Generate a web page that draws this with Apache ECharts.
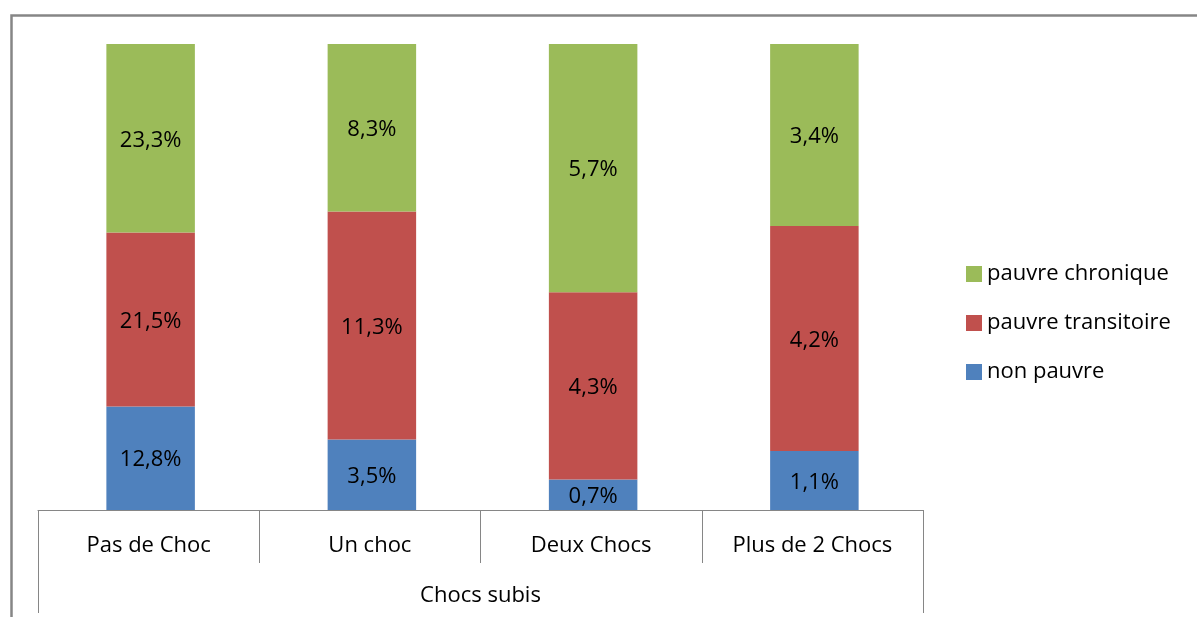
<!DOCTYPE html>
<html>
<head>
<meta charset="utf-8">
<script src="https://cdn.jsdelivr.net/npm/echarts@6/dist/echarts.min.js"></script>
<style>html,body{margin:0;padding:0;background:#fff}#c{width:1197px;height:617px}</style>
</head>
<body>
<div id="c"></div>
<script>
const categories = ['Pas de Choc', 'Un choc', 'Deux Chocs', 'Plus de 2 Chocs'];
const groupLabel = ['Chocs subis'];
const nonPauvre = [12.8, 3.5, 0.7, 1.1];
const pauvreTransitoire = [21.5, 11.3, 4.3, 4.2];
const pauvreChronique = [23.3, 8.3, 5.7, 3.4];
const seriesNames = ['non pauvre', 'pauvre transitoire', 'pauvre chronique'];
const colors = ['#4F81BD', '#C0504D', '#9BBB59'];

const raw = [nonPauvre, pauvreTransitoire, pauvreChronique];
const totals = categories.map((c, i) => raw.reduce((s, a) => s + a[i], 0));
const font = '"Open Sans", "Noto Sans", sans-serif';
const fs = 22;

const chart = echarts.init(document.getElementById('c'));
chart.setOption({
  animation: false,
  backgroundColor: '#fff',
  graphic: [{
    type: 'rect', left: 9, top: 13, z: -1,
    shape: { width: 1300, height: 700 },
    style: { fill: 'none', stroke: '#868686', lineWidth: 2.5 }
  }],
  legend: {
    orient: 'vertical', left: 966, top: 262, padding: 0,
    data: ['pauvre chronique', 'pauvre transitoire', 'non pauvre'],
    icon: 'rect', itemWidth: 16, itemHeight: 16, itemGap: 25,
    textStyle: { fontFamily: font, fontSize: fs, lineHeight: 24, color: '#000' }
  },
  grid: [
    { left: 38, right: 274, top: 44, bottom: 107, containLabel: false },
    { left: 40, right: 272, top: 44, bottom: 107, containLabel: false }
  ],
  xAxis: [{
    type: 'category', data: categories, position: 'bottom', gridIndex: 0,
    axisLine: { show: true, lineStyle: { color: '#868686', width: 1 } },
    axisTick: { show: true, length: 53, interval: 0, lineStyle: { color: '#868686' } },
    axisLabel: { margin: 25, fontFamily: font, fontSize: fs, color: '#000' }
  }, {
    type: 'category', data: groupLabel, position: 'bottom', gridIndex: 0,
    axisLine: { show: false },
    axisTick: { show: true, length: 103, lineStyle: { color: '#868686' } },
    axisLabel: { margin: 75, fontFamily: font, fontSize: fs, color: '#000' }
  }, {
    type: 'category', data: categories, gridIndex: 1, show: false
  }],
  yAxis: [
    { type: 'value', min: 0, max: 100, show: false, gridIndex: 0 },
    { type: 'value', min: 0, max: 100, show: false, gridIndex: 1 }
  ],
  series: raw.map((arr, k) => ({
    name: seriesNames[k], type: 'bar', stack: 'all', xAxisIndex: 2, yAxisIndex: 1,
    barWidth: '40%',
    itemStyle: { color: colors[k] },
    data: arr.map((v, i) => ({ value: v / totals[i] * 100, raw: v })),
    label: {
      show: true, position: 'inside', offset: [0, 2], fontFamily: font, fontSize: fs, color: '#000',
      formatter: p => p.data.raw.toFixed(1).replace('.', ',') + '%'
    }
  }))
});
</script>
</body>
</html>
